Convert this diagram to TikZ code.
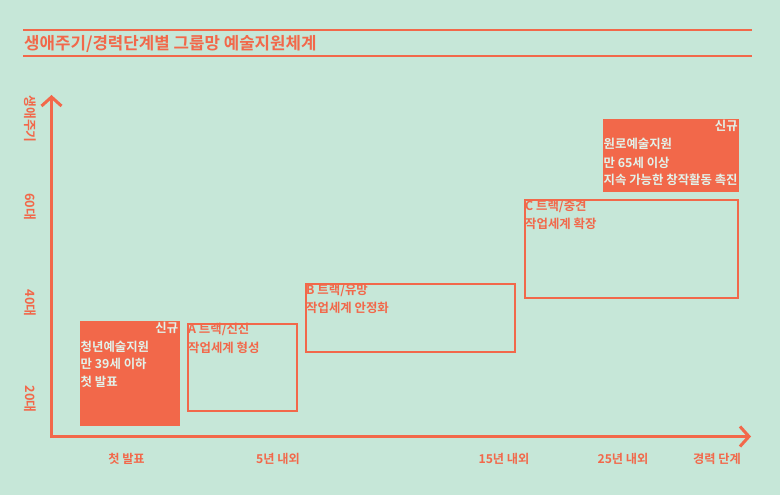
\documentclass[tikz,border=0pt]{standalone}
\usepackage{fontspec}
\setmainfont{Noto Sans CJK KR}[BoldFont={Noto Sans CJK KR Bold}]
\usetikzlibrary{arrows.meta}
\definecolor{bg}{HTML}{C6E7D8}
\definecolor{acc}{HTML}{F2684A}
\definecolor{lt}{HTML}{E2F2EA}
\tikzset{
  fillbox/.style={fill=acc, draw=none, inner sep=0pt, anchor=north west},
  linebox/.style={draw=acc, line width=2pt, inner sep=0pt, anchor=north west},
  txtlt/.style={text=lt, font=\bfseries\fontsize{12.4}{14}\selectfont, inner sep=0pt, anchor=west},
  txtac/.style={text=acc, font=\bfseries\fontsize{12.4}{14}\selectfont, inner sep=0pt, anchor=west},
  axlab/.style={text=acc, font=\bfseries\fontsize{12.2}{14}\selectfont, inner sep=0pt},
  ylab/.style={text=acc, font=\bfseries\fontsize{12.8}{14}\selectfont, inner sep=0pt, rotate=-90},
  axis/.style={draw=acc, line width=3pt, -{Straight Barb[length=9pt,width=20pt,line width=3pt]}},
  rule/.style={draw=acc, line width=2pt}
}
\begin{document}
\begin{tikzpicture}[x=1pt,y=-1pt]
\useasboundingbox[fill=bg] (0,0) rectangle (780,495);
% title
\coordinate (t1a) at (23,30.5); \coordinate (t1b) at (752,30.5);
\coordinate (t2a) at (23,56.5); \coordinate (t2b) at (752,56.5);
\draw[rule] (t1a) -- (t1b);
\draw[rule] (t2a) -- (t2b);
\node[text=acc, font=\bfseries\fontsize{16.8}{18}\selectfont, inner sep=0pt, anchor=west] (title) at (24,43.5) {생애주기/경력단계별 그룹망 예술지원체계};
% axes
\coordinate (oy) at (51.5,438);
\coordinate (ytip) at (51.5,95);
\coordinate (ox) at (50,436.5);
\coordinate (xtip) at (751,436.5);
\draw[axis] (oy) -- (ytip);
\draw[axis] (ox) -- (xtip);
% y labels
\node[ylab] (y0) at (30,119) {생애주기};
\node[ylab] (y60) at (30,206.5) {60대};
\node[ylab] (y40) at (30,303) {40대};
\node[ylab] (y20) at (30,399) {20대};
% x labels
\node[axlab] (x1) at (126.5,459) {첫 발표};
\node[axlab] (x2) at (278,459) {5년 내외};
\node[axlab] (x3) at (504,459) {15년 내외};
\node[axlab] (x4) at (623,459) {25년 내외};
\node[axlab] (x5) at (717,459) {경력 단계};
% box 1 (filled)
\node[fillbox, minimum width=99.5pt, minimum height=104.5pt] (n1) at (80,321) {};
\node[txtlt, anchor=east] (n1a) at (178.5,328) {신규};
\node[txtlt] (n1b) at (80.5,346.5) {청년예술지원};
\node[txtlt] (n1c) at (80.5,364) {만 39세 이하};
\node[txtlt] (n1d) at (80.5,381.5) {첫 발표};
% box A
\node[linebox, minimum width=109pt, minimum height=87.3pt] (bA) at (186.7,322.7) {};
\node[txtac] (bA1) at (188,329.5) {A 트랙/신진};
\node[txtac] (bA2) at (188,347.5) {작업세계 형성};
% box B
\node[linebox, minimum width=209pt, minimum height=67.4pt] (bB) at (305,283.3) {};
\node[txtac] (bB1) at (306,290.5) {B 트랙/유망};
\node[txtac] (bB2) at (306,308) {작업세계 안정화};
% box C
\node[linebox, minimum width=213.3pt, minimum height=98pt] (bC) at (523.7,198.7) {};
\node[txtac] (bC1) at (525,206.5) {C 트랙/중견};
\node[txtac] (bC2) at (525,224.3) {작업세계 확장};
% box 2 (filled)
\node[fillbox, minimum width=136pt, minimum height=72.5pt] (n2) at (602.7,119.3) {};
\node[txtlt, anchor=east] (n2a) at (738,125.5) {신규};
\node[txtlt] (n2b) at (603.5,144.3) {원로예술지원};
\node[txtlt] (n2c) at (603.5,162.5) {만 65세 이상};
\node[txtlt] (n2d) at (603.5,180) {지속 가능한 창작활동 촉진};
\end{tikzpicture}
\end{document}
